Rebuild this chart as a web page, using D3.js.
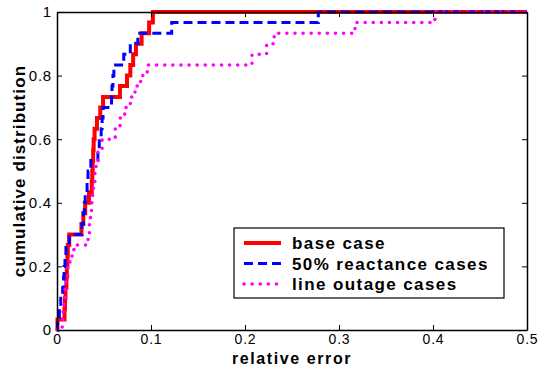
<!DOCTYPE html>
<html>
<head>
<meta charset="utf-8">
<script src="https://cdn.jsdelivr.net/npm/d3@7"></script>
<style>
  body { margin: 0; background: #fff; }
  svg { display: block; font-family: "Liberation Sans", Arial, sans-serif; }
</style>
</head>
<body>
<div id="chart"></div>
<script>
// empirical CDFs of relative error (step points)
const cdfLevels = [0, 0.033, 0.067, 0.1, 0.133, 0.167, 0.2, 0.233, 0.267, 0.3, 0.333, 0.367, 0.4, 0.433, 0.467, 0.5,
  0.533, 0.567, 0.6, 0.633, 0.667, 0.7, 0.733, 0.767, 0.8, 0.833, 0.867, 0.9, 0.933, 0.967, 1, 1];

const baseX = [0, 0.0005, 0.008, 0.0085, 0.009, 0.010, 0.0105, 0.011, 0.0115, 0.013, 0.026, 0.028, 0.030, 0.034,
  0.037, 0.0375, 0.038, 0.0385, 0.039, 0.040, 0.0425, 0.046, 0.049, 0.067, 0.0745, 0.078, 0.081, 0.084, 0.090,
  0.098, 0.102, 0.5];
const reactX = [0, 0.0005, 0.0025, 0.004, 0.006, 0.007, 0.0075, 0.0085, 0.0095, 0.013, 0.0265, 0.028, 0.029, 0.030,
  0.032, 0.033, 0.036, 0.0435, 0.045, 0.047, 0.048, 0.049, 0.058, 0.0585, 0.0595, 0.0605, 0.071, 0.078, 0.086,
  0.122, 0.278, 0.5];
const outageX = [0, 0.0055, 0.0065, 0.0075, 0.0085, 0.0095, 0.0115, 0.0138, 0.018, 0.033, 0.0345, 0.0356, 0.0367,
  0.0378, 0.0388, 0.0404, 0.0415, 0.0436, 0.048, 0.062, 0.067, 0.072, 0.078, 0.083, 0.089, 0.096, 0.2075, 0.223,
  0.231, 0.317, 0.402, 0.5];

const seriesNames = ["base case", "50% reactance cases", "line outage cases"];
const xTicks = [0, 0.1, 0.2, 0.3, 0.4, 0.5];
const yTicks = [0, 0.2, 0.4, 0.6, 0.8, 1];

const W = 543, H = 370;
const m = { left: 57, right: 16, top: 12, bottom: 40 };

const svg = d3.select("#chart").append("svg").attr("width", W).attr("height", H);

const x = d3.scaleLinear().domain([0, 0.5]).range([m.left, W - m.right]);
const y = d3.scaleLinear().domain([0, 1]).range([H - m.bottom, m.top]);

const styles = [
  { color: "#ff0000", width: 4, dash: null, cap: "butt" },
  { color: "#0000ff", width: 3, dash: "9,5", cap: "butt" },
  { color: "#ff00ff", width: 3.5, dash: "0.1,8", cap: "round" }
];

const series = [baseX, reactX, outageX].map((xs, i) =>
  xs.map((v, j) => [v, cdfLevels[j]]));

const line = d3.line()
  .x(d => x(d[0]))
  .y(d => y(d[1]))
  .curve(d3.curveStepAfter);

svg.append("clipPath").attr("id", "plot")
  .append("rect")
  .attr("x", x(0) - 3).attr("y", y(1) - 3)
  .attr("width", x(0.5) - x(0) + 3).attr("height", y(0) - y(1) + 6);

series.forEach((s, i) => {
  svg.append("path")
    .datum(s)
    .attr("d", line)
    .attr("clip-path", "url(#plot)")
    .attr("fill", "none")
    .attr("stroke", styles[i].color)
    .attr("stroke-width", styles[i].width)
    .attr("stroke-dasharray", styles[i].dash)
    .attr("stroke-linecap", styles[i].cap);
});

// axes (box with inward ticks on all sides)
const tickLen = 5;
const axBottom = svg.append("g").attr("transform", `translate(0,${y(0)})`)
  .call(d3.axisBottom(x).tickValues(xTicks).tickFormat(d3.format("")).tickSizeInner(-tickLen).tickSizeOuter(0).tickPadding(4));
const axTop = svg.append("g").attr("transform", `translate(0,${y(1)})`)
  .call(d3.axisTop(x).tickValues(xTicks).tickFormat("").tickSizeInner(-tickLen).tickSizeOuter(0));
const axLeft = svg.append("g").attr("transform", `translate(${x(0)},0)`)
  .call(d3.axisLeft(y).tickValues(yTicks).tickFormat(d3.format("")).tickSizeInner(-tickLen).tickSizeOuter(0).tickPadding(5));
const axRight = svg.append("g").attr("transform", `translate(${x(0.5)},0)`)
  .call(d3.axisRight(y).tickValues(yTicks).tickFormat("").tickSizeInner(-tickLen).tickSizeOuter(0));

[axBottom, axTop, axLeft, axRight].forEach(g => {
  g.select(".domain").attr("stroke", "#000").attr("stroke-width", 1.5);
  g.selectAll(".tick line").attr("stroke", "#000").attr("stroke-width", 1);
  g.selectAll("text").attr("font-size", 15).attr("fill", "#000").attr("letter-spacing", 0.8)
    .attr("font-family", "'Liberation Sans', Arial, sans-serif");
});
axBottom.selectAll("text").attr("font-size", 14);

// axis labels
svg.append("text")
  .attr("x", 292).attr("y", 364)
  .attr("text-anchor", "middle")
  .attr("font-size", 16).attr("font-weight", "bold").attr("letter-spacing", 1.6)
  .text("relative error");

svg.append("text")
  .attr("transform", `translate(25,${(y(0) + y(1)) / 2}) rotate(-90)`)
  .attr("text-anchor", "middle")
  .attr("font-size", 17).attr("font-weight", "bold").attr("letter-spacing", 1.1)
  .text("cumulative distribution");

// legend
const lg = svg.append("g").attr("transform", "translate(234,228)");
lg.append("rect").attr("width", 270).attr("height", 70)
  .attr("fill", "#fff").attr("stroke", "#000").attr("stroke-width", 1.2);

seriesNames.forEach((name, i) => {
  const cy = 15 + i * 20.5;
  lg.append("line")
    .attr("x1", 10).attr("x2", 47).attr("y1", cy).attr("y2", cy)
    .attr("stroke", styles[i].color)
    .attr("stroke-width", styles[i].width)
    .attr("stroke-dasharray", styles[i].dash)
    .attr("stroke-linecap", styles[i].cap);
  lg.append("text")
    .attr("x", 58).attr("y", cy + 6)
    .attr("font-size", 17).attr("font-weight", "bold").attr("letter-spacing", 1.4)
    .text(name);
});
</script>
</body>
</html>
